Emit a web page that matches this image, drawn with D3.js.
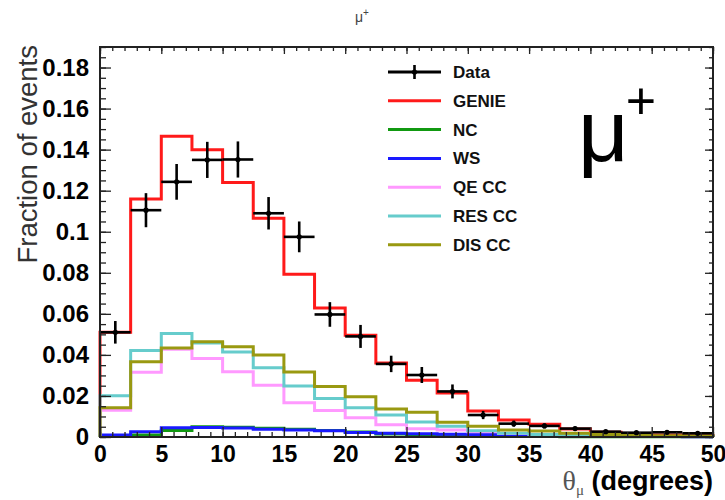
<!DOCTYPE html>
<html>
<head>
<meta charset="utf-8">
<script src="https://cdn.jsdelivr.net/npm/d3@7"></script>
<style>
  html, body { margin: 0; padding: 0; background: #fff; }
  svg { display: block; font-family: "Liberation Sans", Arial, Helvetica, sans-serif; }
</style>
</head>
<body>
<svg id="chart" width="725" height="500"></svg>
<script>
// Lower edges of the 2.5-degree muon angle bins
const binLow = [0, 2.5, 5, 7.5, 10, 12.5, 15, 17.5, 20, 22.5, 25, 27.5, 30, 32.5, 35, 37.5, 40, 42.5, 45, 47.5];
const binWidth = 2.5;

// Measured fraction of events and its uncertainty
const dataValues = [0.051, 0.1105, 0.1243, 0.135, 0.1352, 0.109, 0.0975, 0.0597, 0.049, 0.0356, 0.0302, 0.0222, 0.0107, 0.0065, 0.0054, 0.0041, 0.0026, 0.0021, 0.0023, 0.0018];
const dataErrors = [0.0055, 0.0083, 0.0087, 0.0088, 0.0088, 0.0079, 0.0075, 0.006, 0.0056, 0.004, 0.0039, 0.0034, 0.002, 0.0015, 0.0012, 0.001, 0.0008, 0.0007, 0.0007, 0.0006];

// Simulation: total and components
const genie = [0.051, 0.116, 0.1465, 0.140, 0.124, 0.1066, 0.0793, 0.0628, 0.0496, 0.036, 0.0277, 0.0214, 0.0127, 0.0083, 0.0062, 0.0039, 0.0023, 0.0015, 0.001, 0.0006];
const nc     = [0.0003, 0.001, 0.0032, 0.005, 0.0048, 0.0043, 0.0038, 0.0032, 0.0024, 0.0015, 0.0009, 0.0004, 0.0003, 0.0002, 0.0002, 0.0001, 0.0001, 0.0001, 0.0001, 0.0001];
const ws     = [0.001, 0.0025, 0.0045, 0.0046, 0.0044, 0.0038, 0.0034, 0.003, 0.0022, 0.0018, 0.0016, 0.0014, 0.0012, 0.0009, 0.0007, 0.0005, 0.0004, 0.0003, 0.0002, 0.0001];
const qeCC   = [0.013, 0.0315, 0.0427, 0.0383, 0.0318, 0.0252, 0.0167, 0.0129, 0.0094, 0.006, 0.004, 0.0034, 0.0025, 0.0017, 0.0012, 0.0008, 0.0005, 0.0003, 0.0002, 0.0001];
const resCC  = [0.0201, 0.0422, 0.0504, 0.0458, 0.0414, 0.0337, 0.0248, 0.0188, 0.0143, 0.0107, 0.0073, 0.0052, 0.003, 0.0018, 0.0012, 0.0008, 0.0005, 0.0003, 0.0002, 0.0001];
const disCC  = [0.0143, 0.0367, 0.0433, 0.0464, 0.044, 0.040, 0.0317, 0.0246, 0.0196, 0.0137, 0.0121, 0.0072, 0.0052, 0.0034, 0.0029, 0.0018, 0.0012, 0.0008, 0.0006, 0.0005];

// Axis ticks and labels
const xTickValues = [0, 5, 10, 15, 20, 25, 30, 35, 40, 45, 50];
const xTickLabels = ["0", "5", "10", "15", "20", "25", "30", "35", "40", "45", "50"];
const yTickValues = [0, 0.02, 0.04, 0.06, 0.08, 0.1, 0.12, 0.14, 0.16, 0.18];
const yTickLabels = ["0", "0.02", "0.04", "0.06", "0.08", "0.1", "0.12", "0.14", "0.16", "0.18"];

const legendNames = ["Data", "GENIE", "NC", "WS", "QE CC", "RES CC", "DIS CC"];
const legendColors = ["#000000", "#ff1a1a", "#119911", "#1a1aff", "#ff99ff", "#66cccc", "#999911"];

const svg = d3.select("#chart");
const frameL = 100, frameR = 713, frameT = 47, frameB = 437;

const x = d3.scaleLinear().domain([0, 50]).range([frameL, frameR]);
const y = d3.scaleLinear().domain([0, 0.19]).range([frameB, frameT]);

// Step outline of a histogram, starting and ending on the baseline
function stepPath(values) {
  const p = d3.path();
  p.moveTo(x(binLow[0]), y(0));
  values.forEach((v, i) => {
    p.lineTo(x(binLow[i]), y(v));
    p.lineTo(x(binLow[i] + binWidth), y(v));
  });
  p.lineTo(x(binLow[binLow.length - 1] + binWidth), y(0));
  return p.toString();
}

const hists = [
  { values: genie, color: legendColors[1] },
  { values: nc,    color: legendColors[2] },
  { values: ws,    color: legendColors[3] },
  { values: qeCC,  color: legendColors[4] },
  { values: resCC, color: legendColors[5] },
  { values: disCC, color: legendColors[6] }
];

const plot = svg.append("g");
plot.selectAll("path.hist")
  .data(hists)
  .join("path")
  .attr("class", "hist")
  .attr("d", d => stepPath(d.values))
  .attr("fill", "none")
  .attr("stroke", d => d.color)
  .attr("stroke-width", 3)
  .attr("stroke-linejoin", "miter");

// Data points with horizontal bin-width bars and vertical error bars
const pts = plot.selectAll("g.pt")
  .data(dataValues.map((v, i) => ({ v, e: dataErrors[i], lo: binLow[i] })))
  .join("g").attr("class", "pt");
pts.append("line")
  .attr("x1", d => x(d.lo)).attr("x2", d => x(d.lo + binWidth))
  .attr("y1", d => y(d.v)).attr("y2", d => y(d.v))
  .attr("stroke", "#000").attr("stroke-width", 2.6);
pts.append("line")
  .attr("x1", d => x(d.lo + binWidth / 2)).attr("x2", d => x(d.lo + binWidth / 2))
  .attr("y1", d => y(d.v - d.e)).attr("y2", d => y(d.v + d.e))
  .attr("stroke", "#000").attr("stroke-width", 2.6);
pts.append("circle")
  .attr("cx", d => x(d.lo + binWidth / 2)).attr("cy", d => y(d.v))
  .attr("r", 2.6).attr("fill", "#000");

// Frame with inward ticks on all four sides
const axisColor = "#222";
const xMinor = d3.range(0, 51, 1);
const yMinor = d3.range(0, 0.1901, 0.005);

function styleAxis(g) {
  g.selectAll("path.domain").remove();
  g.selectAll("line").attr("stroke", axisColor).attr("stroke-width", 1.3);
}

svg.append("g").attr("transform", `translate(0,${frameB})`)
  .call(d3.axisBottom(x).tickValues(xMinor).tickSize(-5).tickFormat(""))
  .call(styleAxis);
svg.append("g").attr("transform", `translate(0,${frameB})`)
  .call(d3.axisBottom(x).tickValues(xTickValues).tickSize(-10).tickPadding(9)
    .tickFormat((d, i) => xTickLabels[i]))
  .call(styleAxis)
  .call(g => g.selectAll("text").attr("font-size", 23).attr("font-weight", "bold").attr("fill", "#000"));

svg.append("g").attr("transform", `translate(0,${frameT})`)
  .call(d3.axisTop(x).tickValues(xMinor).tickSize(-4).tickFormat(""))
  .call(styleAxis);
svg.append("g").attr("transform", `translate(0,${frameT})`)
  .call(d3.axisTop(x).tickValues(xTickValues).tickSize(-7).tickFormat(""))
  .call(styleAxis);

svg.append("g").attr("transform", `translate(${frameL},0)`)
  .call(d3.axisLeft(y).tickValues(yMinor).tickSize(-6).tickFormat(""))
  .call(styleAxis);
svg.append("g").attr("transform", `translate(${frameL},0)`)
  .call(d3.axisLeft(y).tickValues(yTickValues).tickSize(-11).tickPadding(11)
    .tickFormat((d, i) => yTickLabels[i]))
  .call(styleAxis)
  .call(g => g.selectAll("text").attr("font-size", 24).attr("font-weight", "bold").attr("fill", "#000"));

svg.append("g").attr("transform", `translate(${frameR},0)`)
  .call(d3.axisRight(y).tickValues(yMinor).tickSize(-4).tickFormat(""))
  .call(styleAxis);
svg.append("g").attr("transform", `translate(${frameR},0)`)
  .call(d3.axisRight(y).tickValues(yTickValues).tickSize(-8).tickFormat(""))
  .call(styleAxis);

svg.append("rect")
  .attr("x", frameL).attr("y", frameT)
  .attr("width", frameR - frameL).attr("height", frameB - frameT)
  .attr("fill", "none").attr("stroke", axisColor).attr("stroke-width", 2);

// Titles
const title = svg.append("text")
  .attr("x", 362).attr("y", 22).attr("text-anchor", "middle")
  .attr("font-size", 14).attr("fill", "#444");
title.append("tspan").text("μ");
title.append("tspan").attr("font-size", 10).attr("dy", -6).text("+");

svg.append("text")
  .attr("transform", `translate(37,${frameT - 2}) rotate(-90)`)
  .attr("text-anchor", "end")
  .attr("font-size", 27.5).attr("fill", "#333")
  .text("Fraction of events");

const xTitle = svg.append("text")
  .attr("x", frameR).attr("y", 490).attr("text-anchor", "end")
  .attr("font-size", 27).attr("fill", "#000");
xTitle.append("tspan").attr("font-family", "'Liberation Serif', serif").attr("fill", "#555")
  .attr("font-size", 28).text("θ");
xTitle.append("tspan").attr("font-family", "'Liberation Serif', serif").attr("fill", "#555")
  .attr("font-size", 15).attr("dy", 5).text("μ");
xTitle.append("tspan").attr("dy", -5).attr("font-weight", "bold").text(" (degrees)");

// Large particle label: the symbol and its charge sign as one superscripted text
const big = svg.append("text").attr("x", 578).attr("y", 161).attr("fill", "#000");
big.append("tspan").attr("font-size", 88).text("μ");
big.append("tspan").attr("font-size", 52).attr("dx", -3).attr("dy", -42).text("+");

// Legend
const legend = svg.append("g");
const legRows = legend.selectAll("g")
  .data(legendNames.map((n, i) => ({ n, c: legendColors[i], i })))
  .join("g")
  .attr("transform", d => `translate(388,${72 + d.i * 28.8})`);
legRows.append("line")
  .attr("x1", 0).attr("x2", 53).attr("y1", 0).attr("y2", 0)
  .attr("stroke", d => d.c).attr("stroke-width", 3);
legRows.filter(d => d.i === 0).append("line")
  .attr("x1", 26.5).attr("x2", 26.5).attr("y1", -7).attr("y2", 7)
  .attr("stroke", "#000").attr("stroke-width", 2.6);
legRows.filter(d => d.i === 0).append("circle")
  .attr("cx", 26.5).attr("cy", 0).attr("r", 2.6).attr("fill", "#000");
legRows.append("text")
  .attr("x", 65).attr("y", 6)
  .attr("font-size", 17).attr("font-weight", "bold").attr("fill", "#111")
  .text(d => d.n);
</script>
</body>
</html>
